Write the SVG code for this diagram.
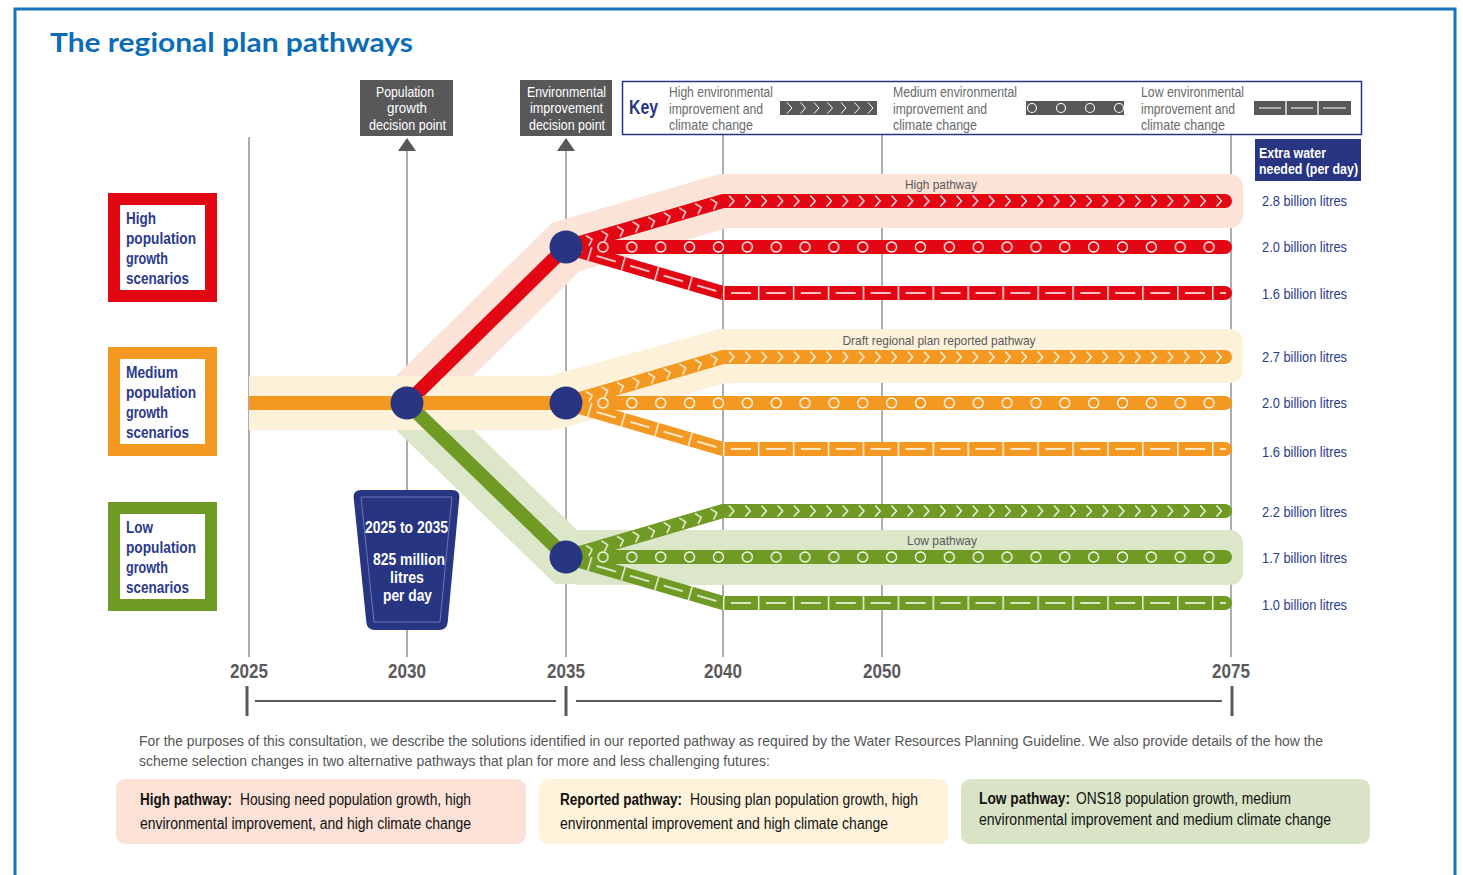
<svg xmlns="http://www.w3.org/2000/svg" width="1463" height="875" viewBox="0 0 1463 875">
<style>
.n{font-family:'Liberation Sans',Arial,sans-serif}
.grid{stroke:#8c8c8c;stroke-width:1.4;fill:none}
.yr{font-size:20px;font-weight:bold;fill:#5a5a5c;text-anchor:middle}
.key{font-size:14.5px;fill:#6a6a6a}
.val{font-size:15px;fill:#2b3a8c}
.scen{font-size:17px;font-weight:bold;fill:#2b3a8c}
.dp{font-size:14.5px;fill:#fff;text-anchor:middle}
.pl{font-size:13.5px;fill:#5a5a5c;text-anchor:middle}
.foot{font-size:15px;fill:#555}
.bx{font-size:16px;fill:#111}
.bk{font-size:16.5px;font-weight:bold;fill:#fff;text-anchor:middle}
.ln{fill:none;stroke-width:14;stroke-linecap:round;stroke-linejoin:miter}
.band{fill:none;stroke-width:54;stroke-linejoin:miter}
</style>
<defs>
<pattern id="pChev" patternUnits="userSpaceOnUse" width="16.25" height="14"><path d="M6,1.5 L11,7 L6,12.5" fill="none" stroke="#fff" stroke-width="1.2"/></pattern>
<pattern id="pCirc" patternUnits="userSpaceOnUse" width="28.86" height="14"><circle cx="14.43" cy="7" r="5" fill="none" stroke="#fff" stroke-width="1.3"/></pattern>
<pattern id="pDash" patternUnits="userSpaceOnUse" width="34.93" height="14"><path d="M0.75,0 V14 M8,7 H28" fill="none" stroke="#fff" stroke-width="1.3"/></pattern>
</defs>
<rect width="1463" height="875" fill="#fff"/>
<path d="M15,880 V9 H1455 V880" fill="none" stroke="#1673be" stroke-width="3"/>
<text x="50" y="52" font-family="Lato,'Noto Sans',sans-serif" font-weight="bold" font-size="27" fill="#0c6db6" textLength="363" lengthAdjust="spacingAndGlyphs">The regional plan pathways</text>

<g id="grid">
<path class="grid" d="M249,137 V657 M407,150 V657 M566,150 V657 M723,135 V657 M882,135 V657 M1231,135 V657"/>
</g>

<g id="years" class="n">
<text class="yr" x="249" y="678" textLength="38" lengthAdjust="spacingAndGlyphs">2025</text>
<text class="yr" x="407" y="678" textLength="38" lengthAdjust="spacingAndGlyphs">2030</text>
<text class="yr" x="566" y="678" textLength="38" lengthAdjust="spacingAndGlyphs">2035</text>
<text class="yr" x="723" y="678" textLength="38" lengthAdjust="spacingAndGlyphs">2040</text>
<text class="yr" x="882" y="678" textLength="38" lengthAdjust="spacingAndGlyphs">2050</text>
<text class="yr" x="1231" y="678" textLength="38" lengthAdjust="spacingAndGlyphs">2075</text>
</g>
<g id="axis" stroke="#5a5a5c">
<path d="M255,701 H556 M576,701 H1222" stroke-width="2"/>
<path d="M247,686 V716 M566,686 V716 M1232,686 V716" stroke-width="3"/>
</g>

<g id="bands">
<path class="band" stroke="#fbe3d8" d="M407,403 L566,247 L723,201 L760,201"/>
<rect x="723" y="174" width="520" height="54" rx="13" fill="#fbe3d8"/>
<path class="band" stroke="#dce6c8" d="M407,403 L566,557 L600,557"/>
<rect x="566" y="530" width="677" height="55" rx="13" fill="#dce6c8"/>
<path class="band" stroke="#fef1da" d="M249,403 L552,403 L723,356 L760,356"/>
<rect x="723" y="329" width="520" height="54" rx="13" fill="#fef1da"/>
</g>
<g id="band-labels" class="n">
<text class="pl" x="941" y="189" textLength="72" lengthAdjust="spacingAndGlyphs">High pathway</text>
<text class="pl" x="939" y="345" textLength="193" lengthAdjust="spacingAndGlyphs">Draft regional plan reported pathway</text>
<text class="pl" x="942" y="545" textLength="70" lengthAdjust="spacingAndGlyphs">Low pathway</text>
</g>

<g id="connectors">
<path class="ln" stroke="#e30613" d="M407,403 L566,247"/>
<path class="ln" stroke="#6f9a23" d="M407,403 L566,557"/>
<path class="ln" stroke="#f39820" d="M249,403 H566" style="stroke-linecap:butt"/>

<g id="high-lines">
<path class="ln" stroke="#e30613" d="M566,247 L723,201 L1225,201"/>
<path class="ln" stroke="#e30613" d="M566,247 L1225,247"/>
<path class="ln" stroke="#e30613" d="M566,247 L723,293 L1225,293"/>
<g transform="translate(723,194)"><rect width="499" height="14" fill="url(#pChev)"/></g>
<g transform="translate(566,247) rotate(-16.33) translate(0,-7)"><rect x="16" width="147" height="14" fill="url(#pChev)"/></g>
<g transform="translate(588.57,240)"><rect width="636" height="14" fill="url(#pCirc)"/></g>
<g transform="translate(723,286)"><rect width="503" height="14" fill="url(#pDash)"/></g>
<g transform="translate(566,247) rotate(16.33) translate(23.9,-7)"><rect x="-7.9" width="147.6" height="14" fill="url(#pDash)"/></g>
</g>
<g id="medium-lines" transform="translate(0,156)">
<path class="ln" stroke="#f39820" d="M566,247 L723,201 L1225,201"/>
<path class="ln" stroke="#f39820" d="M566,247 L1225,247"/>
<path class="ln" stroke="#f39820" d="M566,247 L723,293 L1225,293"/>
<g transform="translate(723,194)"><rect width="499" height="14" fill="url(#pChev)"/></g>
<g transform="translate(566,247) rotate(-16.33) translate(0,-7)"><rect x="16" width="147" height="14" fill="url(#pChev)"/></g>
<g transform="translate(588.57,240)"><rect width="636" height="14" fill="url(#pCirc)"/></g>
<g transform="translate(723,286)"><rect width="503" height="14" fill="url(#pDash)"/></g>
<g transform="translate(566,247) rotate(16.33) translate(23.9,-7)"><rect x="-7.9" width="147.6" height="14" fill="url(#pDash)"/></g>
</g>
<g id="low-lines" transform="translate(0,310)">
<path class="ln" stroke="#6f9a23" d="M566,247 L723,201 L1225,201"/>
<path class="ln" stroke="#6f9a23" d="M566,247 L1225,247"/>
<path class="ln" stroke="#6f9a23" d="M566,247 L723,293 L1225,293"/>
<g transform="translate(723,194)"><rect width="499" height="14" fill="url(#pChev)"/></g>
<g transform="translate(566,247) rotate(-16.33) translate(0,-7)"><rect x="16" width="147" height="14" fill="url(#pChev)"/></g>
<g transform="translate(588.57,240)"><rect width="636" height="14" fill="url(#pCirc)"/></g>
<g transform="translate(723,286)"><rect width="503" height="14" fill="url(#pDash)"/></g>
<g transform="translate(566,247) rotate(16.33) translate(23.9,-7)"><rect x="-7.9" width="147.6" height="14" fill="url(#pDash)"/></g>
</g>
</g>

<g id="node-2030"><circle cx="407" cy="403" r="16.5" fill="#283583"/></g>
<g id="node-2035-high"><circle cx="566" cy="247" r="16.5" fill="#283583"/></g>
<g id="node-2035-medium"><circle cx="566" cy="403" r="16.5" fill="#283583"/></g>
<g id="node-2035-low"><circle cx="566" cy="557" r="16.5" fill="#283583"/></g>

<g id="bucket" class="n">
<path d="M361,490 H452 Q460,490 459.3,498 L447.7,622 Q447,630 439,630 H375 Q367,630 366.3,622 L353.7,498 Q353,490 361,490 Z" fill="#283583"/>
<path d="M361,497 H452 L440,622 H374 Z" fill="none" stroke="#7f88c2" stroke-width="0.8"/>
<text class="bk" x="406.5" y="533" textLength="83" lengthAdjust="spacingAndGlyphs">2025 to 2035</text>
<text class="bk" x="409" y="565" textLength="72" lengthAdjust="spacingAndGlyphs">825 million</text>
<text class="bk" x="407" y="583" textLength="34" lengthAdjust="spacingAndGlyphs">litres</text>
<text class="bk" x="407.5" y="601" textLength="49" lengthAdjust="spacingAndGlyphs">per day</text>
</g>

<g id="dp-population" class="n">
<rect x="360" y="80" width="93" height="56" fill="#58585a"/>
<text class="dp" x="405" y="97" textLength="58" lengthAdjust="spacingAndGlyphs">Population</text>
<text class="dp" x="407" y="113" textLength="40" lengthAdjust="spacingAndGlyphs">growth</text>
<text class="dp" x="407.5" y="130" textLength="77" lengthAdjust="spacingAndGlyphs">decision point</text>
<path d="M407,138 L416,151 H398 Z" fill="#58585a"/>
</g>
<g id="dp-environment" class="n">
<rect x="520" y="80" width="92" height="56" fill="#58585a"/>
<text class="dp" x="566.5" y="97" textLength="79" lengthAdjust="spacingAndGlyphs">Environmental</text>
<text class="dp" x="566.5" y="113" textLength="73" lengthAdjust="spacingAndGlyphs">improvement</text>
<text class="dp" x="567" y="130" textLength="76" lengthAdjust="spacingAndGlyphs">decision point</text>
<path d="M566,138 L575,151 H557 Z" fill="#58585a"/>
</g>

<g id="key" class="n">
<rect x="622.5" y="81.5" width="739" height="53" fill="#fff" stroke="#283583" stroke-width="1.5"/>
<text x="629" y="114" font-size="21" font-weight="bold" fill="#283583" textLength="29" lengthAdjust="spacingAndGlyphs">Key</text>
<text class="key" x="669" y="97" textLength="104" lengthAdjust="spacingAndGlyphs">High environmental</text>
<text class="key" x="669" y="114" textLength="94" lengthAdjust="spacingAndGlyphs">improvement and</text>
<text class="key" x="669" y="130" textLength="84" lengthAdjust="spacingAndGlyphs">climate change</text>
<rect x="780" y="101" width="97" height="14" fill="#58585a"/>
<path d="M787,102.5 L792,108 L787,113.5 M800.5,102.5 L805.5,108 L800.5,113.5 M814,102.5 L819,108 L814,113.5 M827.5,102.5 L832.5,108 L827.5,113.5 M841,102.5 L846,108 L841,113.5 M854.5,102.5 L859.5,108 L854.5,113.5 M868,102.5 L873,108 L868,113.5" fill="none" stroke="#fff" stroke-width="1"/>
<text class="key" x="893" y="97" textLength="124" lengthAdjust="spacingAndGlyphs">Medium environmental</text>
<text class="key" x="893" y="114" textLength="94" lengthAdjust="spacingAndGlyphs">improvement and</text>
<text class="key" x="893" y="130" textLength="84" lengthAdjust="spacingAndGlyphs">climate change</text>
<rect x="1026" y="101" width="98" height="14" fill="#58585a"/>
<g fill="none" stroke="#fff" stroke-width="1.1"><circle cx="1032" cy="108" r="4.5"/><circle cx="1061" cy="108" r="4.5"/><circle cx="1090" cy="108" r="4.5"/><circle cx="1119" cy="108" r="4.5"/></g>
<text class="key" x="1141" y="97" textLength="103" lengthAdjust="spacingAndGlyphs">Low environmental</text>
<text class="key" x="1141" y="114" textLength="94" lengthAdjust="spacingAndGlyphs">improvement and</text>
<text class="key" x="1141" y="130" textLength="84" lengthAdjust="spacingAndGlyphs">climate change</text>
<rect x="1254" y="101" width="97" height="14" fill="#58585a"/>
<path d="M1286,101 V115 M1318,101 V115" stroke="#fff" stroke-width="1.3"/>
<path d="M1259,108 H1281 M1291,108 H1313 M1323,108 H1346" stroke="#fff" stroke-width="1.1"/>
</g>

<g id="extra-water" class="n">
<rect x="1255" y="139" width="106" height="42" fill="#283583"/>
<text x="1259" y="158" font-size="14.5" font-weight="bold" fill="#fff" textLength="67" lengthAdjust="spacingAndGlyphs">Extra water</text>
<text x="1259" y="174" font-size="14.5" font-weight="bold" fill="#fff" textLength="99" lengthAdjust="spacingAndGlyphs">needed (per day)</text>
</g>
<g id="values" class="n">
<text class="val" x="1262" y="206" textLength="85" lengthAdjust="spacingAndGlyphs">2.8 billion litres</text>
<text class="val" x="1262" y="252" textLength="85" lengthAdjust="spacingAndGlyphs">2.0 billion litres</text>
<text class="val" x="1262" y="299" textLength="85" lengthAdjust="spacingAndGlyphs">1.6 billion litres</text>
<text class="val" x="1262" y="362" textLength="85" lengthAdjust="spacingAndGlyphs">2.7 billion litres</text>
<text class="val" x="1262" y="408" textLength="85" lengthAdjust="spacingAndGlyphs">2.0 billion litres</text>
<text class="val" x="1262" y="457" textLength="85" lengthAdjust="spacingAndGlyphs">1.6 billion litres</text>
<text class="val" x="1262" y="517" textLength="85" lengthAdjust="spacingAndGlyphs">2.2 billion litres</text>
<text class="val" x="1262" y="563" textLength="85" lengthAdjust="spacingAndGlyphs">1.7 billion litres</text>
<text class="val" x="1262" y="610" textLength="85" lengthAdjust="spacingAndGlyphs">1.0 billion litres</text>
</g>

<g id="scen-high" class="n">
<rect x="108" y="193" width="109" height="109" fill="#e30613"/>
<rect x="120" y="205" width="85" height="85" fill="#fff"/>
<text class="scen" x="126" y="224" textLength="30" lengthAdjust="spacingAndGlyphs">High</text>
<text class="scen" x="126" y="244" textLength="70" lengthAdjust="spacingAndGlyphs">population</text>
<text class="scen" x="126" y="264" textLength="42" lengthAdjust="spacingAndGlyphs">growth</text>
<text class="scen" x="126" y="284" textLength="63" lengthAdjust="spacingAndGlyphs">scenarios</text>
</g>
<g id="scen-medium" class="n">
<rect x="108" y="347" width="109" height="109" fill="#f39820"/>
<rect x="120" y="359" width="85" height="85" fill="#fff"/>
<text class="scen" x="126" y="378" textLength="52" lengthAdjust="spacingAndGlyphs">Medium</text>
<text class="scen" x="126" y="398" textLength="70" lengthAdjust="spacingAndGlyphs">population</text>
<text class="scen" x="126" y="418" textLength="42" lengthAdjust="spacingAndGlyphs">growth</text>
<text class="scen" x="126" y="438" textLength="63" lengthAdjust="spacingAndGlyphs">scenarios</text>
</g>
<g id="scen-low" class="n">
<rect x="108" y="502" width="109" height="109" fill="#6f9a23"/>
<rect x="120" y="514" width="85" height="85" fill="#fff"/>
<text class="scen" x="126" y="533" textLength="27" lengthAdjust="spacingAndGlyphs">Low</text>
<text class="scen" x="126" y="553" textLength="70" lengthAdjust="spacingAndGlyphs">population</text>
<text class="scen" x="126" y="573" textLength="42" lengthAdjust="spacingAndGlyphs">growth</text>
<text class="scen" x="126" y="593" textLength="63" lengthAdjust="spacingAndGlyphs">scenarios</text>
</g>

<g id="footnote" class="n">
<text class="foot" x="139" y="746" textLength="1184" lengthAdjust="spacingAndGlyphs">For the purposes of this consultation, we describe the solutions identified in our reported pathway as required by the Water Resources Planning Guideline. We also provide details of the how the</text>
<text class="foot" x="139" y="766" textLength="631" lengthAdjust="spacingAndGlyphs">scheme selection changes in two alternative pathways that plan for more and less challenging futures:</text>
</g>

<g id="box-high" class="n">
<rect x="116" y="779" width="410" height="65" rx="9" fill="#fbe1d6"/>
<text class="bx" x="140" y="805" font-weight="bold" textLength="92" lengthAdjust="spacingAndGlyphs">High pathway:</text>
<text class="bx" x="240" y="805" textLength="231" lengthAdjust="spacingAndGlyphs">Housing need population growth, high</text>
<text class="bx" x="140" y="829" textLength="331" lengthAdjust="spacingAndGlyphs">environmental improvement, and high climate change</text>
</g>
<g id="box-reported" class="n">
<rect x="539" y="779" width="409" height="65" rx="9" fill="#fef2da"/>
<text class="bx" x="560" y="805" font-weight="bold" textLength="122" lengthAdjust="spacingAndGlyphs">Reported pathway:</text>
<text class="bx" x="690" y="805" textLength="228" lengthAdjust="spacingAndGlyphs">Housing plan population growth, high</text>
<text class="bx" x="560" y="829" textLength="328" lengthAdjust="spacingAndGlyphs">environmental improvement and high climate change</text>
</g>
<g id="box-low" class="n">
<rect x="961" y="779" width="409" height="65" rx="9" fill="#d9e4c6"/>
<text class="bx" x="979" y="804" font-weight="bold" textLength="91" lengthAdjust="spacingAndGlyphs">Low pathway:</text>
<text class="bx" x="1076" y="804" textLength="215" lengthAdjust="spacingAndGlyphs">ONS18 population growth, medium</text>
<text class="bx" x="979" y="825" textLength="352" lengthAdjust="spacingAndGlyphs">environmental improvement and medium climate change</text>
</g>
</svg>
